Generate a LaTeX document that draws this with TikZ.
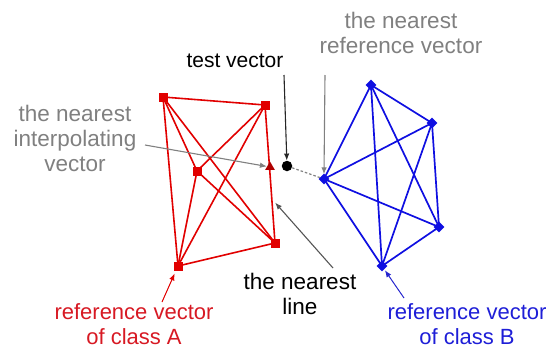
\documentclass[tikz,border=0pt]{standalone}
\usepackage{fontspec}
\setmainfont{Liberation Sans}
\usetikzlibrary{arrows.meta,shapes.geometric,calc}
\definecolor{myred}{RGB}{225,0,0}
\definecolor{myblue}{RGB}{15,15,225}
\definecolor{mygray}{RGB}{128,128,128}
\definecolor{txtred}{RGB}{215,25,35}
\definecolor{txtblue}{RGB}{30,30,215}
\definecolor{darkred}{RGB}{175,0,0}
\definecolor{darkline}{RGB}{85,85,85}
\pgfdeclarelayer{bg}
\pgfsetlayers{bg,main}
\begin{document}
\begin{tikzpicture}[x=1pt,y=-1pt,
 lbl/.style={font=\fontsize{22.5}{25}\selectfont, align=center, inner sep=0pt},
 rsq/.style={rectangle, fill=myred, minimum size=9pt, inner sep=0pt},
 bdia/.style={diamond, fill=myblue, minimum size=11pt, inner sep=0pt},
 redge/.style={myred, line width=1.6pt},
 bedge/.style={myblue, line width=1.7pt},
 ptr/.style={-{Latex[length=7pt,width=5.5pt]}, line width=1.1pt},
]
\useasboundingbox (0,0) rectangle (552,349);

% class A
\node[rsq] (A1) at (163,97) {};
\node[rsq] (A2) at (265,105) {};
\node[rsq] (A3) at (197,171) {};
\node[rsq] (A4) at (275,243) {};
\node[rsq] (A5) at (178,266) {};
% class B
\node[bdia] (B1) at (371,85) {};
\node[bdia] (B2) at (432,123) {};
\node[bdia] (B3) at (324,179) {};
\node[bdia] (B4) at (439,227) {};
\node[bdia] (B5) at (382,266) {};
% test vector and interpolating vector
\node[regular polygon, regular polygon sides=3, fill=darkred, minimum size=11pt, inner sep=0pt] (iv) at (270,167) {};
\node[circle, fill=black, minimum size=10.5pt, inner sep=0pt] (dot) at (287,166) {};

\begin{pgfonlayer}{bg}
\foreach \a/\b in {A1/A2,A1/A3,A1/A4,A1/A5,A2/A3,A2/A4,A2/A5,A3/A4,A3/A5,A4/A5}
  \draw[redge] (\a.center) -- (\b.center);
\foreach \a/\b in {B1/B2,B1/B3,B1/B4,B1/B5,B2/B3,B2/B4,B2/B5,B3/B4,B3/B5,B4/B5}
  \draw[bedge] (\a.center) -- (\b.center);
\end{pgfonlayer}
\draw[mygray, line width=1.2pt, dashed, dash pattern=on 2.5pt off 2pt] (dot) -- (B3);

% labels
\node[lbl, font=\fontsize{21}{25}\selectfont, text=black] (tv) at (235,61) {test vector};
\node[lbl, text=mygray] (nrv) at (401,33) {the nearest\\reference vector};
\node[lbl, text=mygray] (niv) at (75,138) {the nearest\\interpolating\\vector};
\node[lbl, text=black] (nl) at (300,294) {the nearest\\line};
\node[lbl, font=\fontsize{22}{24.5}\selectfont, text=txtred] (rA) at (134,324) {reference vector\\of class A};
\node[lbl, font=\fontsize{22}{24.5}\selectfont, text=txtblue] (rB) at (467,324) {reference vector\\of class B};

% arrow tails
\coordinate (tvT) at (284,75);
\coordinate (nrvT) at (325,75);
\coordinate (nivT) at (145,145);
\coordinate (nlT) at (333,268);
\coordinate (rAT) at (162,302);
\coordinate (rBT) at (404,298);
\coordinate (nlP) at ($(A2)!0.68!(A4)$);

\draw[ptr, black!85] (tvT) -- (dot);
\draw[ptr, mygray] (nrvT) -- ([yshift=-1pt]B3.north);
\draw[ptr, mygray] (nivT) -- (iv);
\draw[ptr, darkline, shorten >=5pt] (nlT) -- (nlP);
\draw[ptr, myred, line width=1pt, shorten >=3pt] (rAT) -- (A5);
\draw[ptr, myblue!80!gray, line width=1pt, shorten >=1pt] (rBT) -- (B5);
\end{tikzpicture}
\end{document}
